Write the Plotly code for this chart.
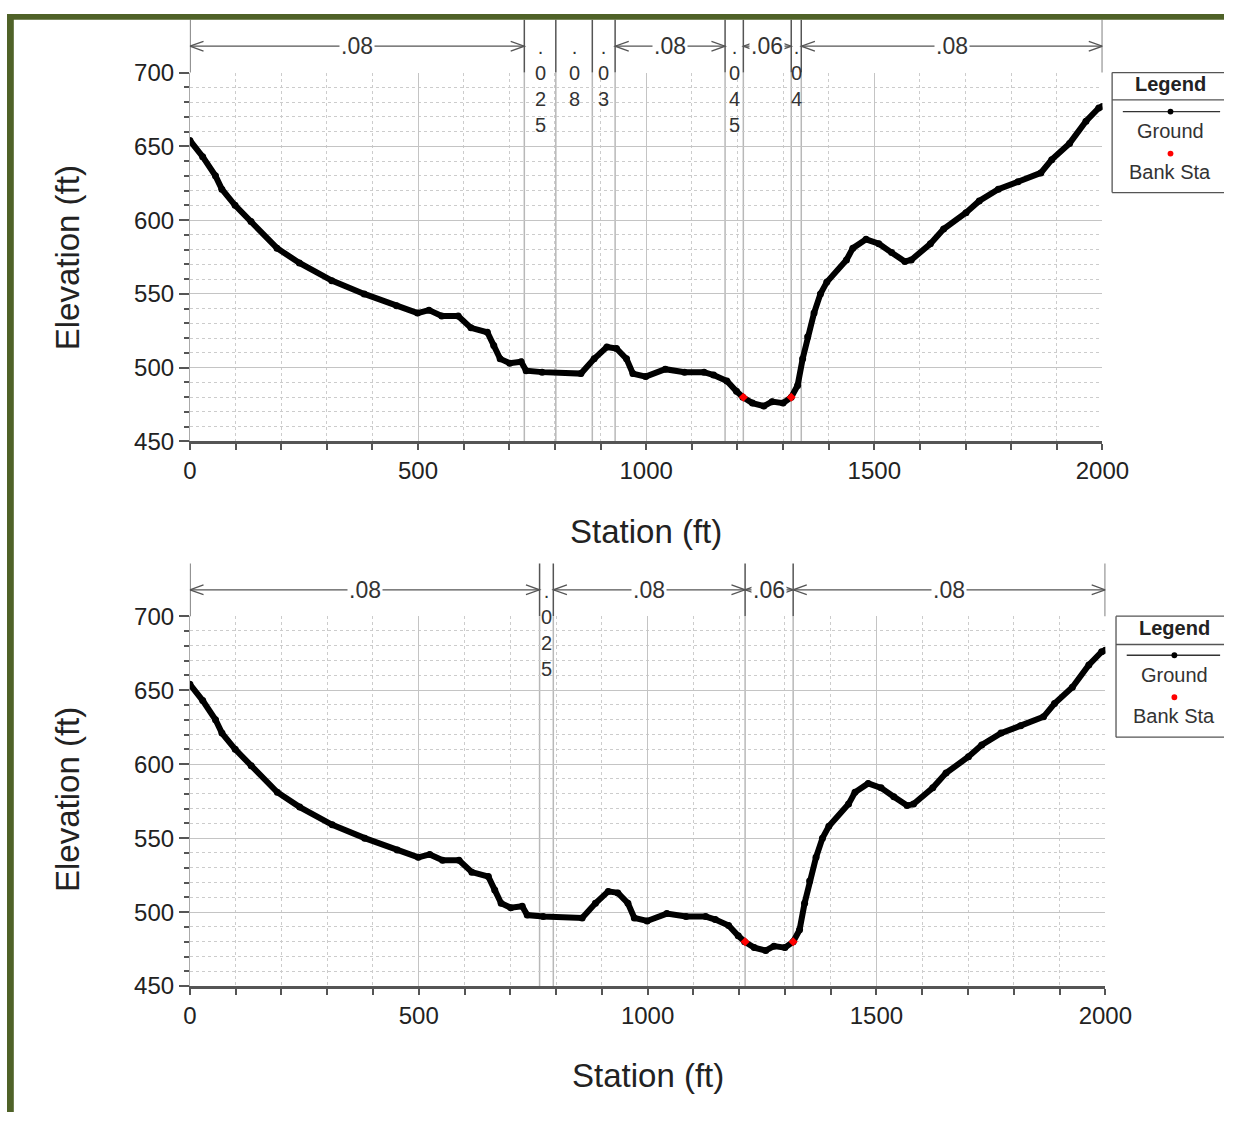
import plotly.graph_objects as go

# ---------------- data ----------------
station = [0, 28, 56, 70, 99, 134, 191, 240, 311, 382, 453, 499, 524, 552, 588, 616,
           652, 666, 680, 701, 726, 737, 772, 857, 886, 914, 935, 957, 971, 999, 1042,
           1084, 1127, 1148, 1177, 1198, 1212, 1233, 1258, 1276, 1300, 1318, 1332, 1343,
           1354, 1368, 1382, 1396, 1439, 1453, 1482, 1510, 1538, 1567, 1581, 1623, 1652,
           1701, 1730, 1772, 1815, 1865, 1889, 1928, 1964, 1992, 2000]
elevation = [654, 643, 630, 621, 610, 599, 581, 571, 559, 550, 542, 537, 539, 535, 535, 527,
             524, 515, 506, 503, 504, 498, 497, 496, 506, 514, 513, 506, 496, 494, 499,
             497, 497, 495, 491, 484, 480, 476, 474, 477, 476, 480, 488, 506,
             521, 537, 550, 558, 573, 581, 587, 584, 578, 572, 573, 584, 594,
             605, 613, 621, 626, 632, 641, 652, 667, 676, 677]
bank_sta = [1213, 1318]
bank_elev = [480, 480]

n_breaks_top = [0, 733, 802, 882, 932, 1173, 1213, 1318, 1340, 2000]
n_vals_top = [".08", ".025", ".08", ".03", ".08", ".045", ".06", ".04", ".08"]
n_breaks_bot = [0, 764, 794, 1213, 1318, 2000]
n_vals_bot = [".08", ".025", ".08", ".06", ".08"]

x_ticks = [0, 500, 1000, 1500, 2000]
y_ticks = [450, 500, 550, 600, 650, 700]

W, H = 1251, 1125
FONT = "Arial, Liberation Sans, sans-serif"


def X(px):
    return px / W


def Y(py):
    return 1 - py / H


panels = [
    dict(xa="x", ya="y", xl=188, xr=1126, yt=60, yb=438, arrow_y=33, line_top=6,
         breaks=n_breaks_top, vals=n_vals_top, xtitle_y=530, ytitle_y=250,
         leg=dict(x0=1136, y0=60, y1=183, cx=1196, head=72, sep=88, samp=100,
                  g=120, red=143, b=162)),
    dict(xa="x2", ya="y2", xl=188, xr=1129, yt=617, yb=996, arrow_y=590, line_top=563,
         breaks=n_breaks_bot, vals=n_vals_bot, xtitle_y=1088, ytitle_y=805,
         leg=dict(x0=1140, y0=617, y1=741, cx=1200, head=629, sep=646, samp=657,
                  g=677, red=700, b=719)),
]

fig = go.Figure()
shapes = []
annotations = []


def ann(**kw):
    d = dict(showarrow=False, xanchor="center", yanchor="middle")
    d.update(kw)
    annotations.append(d)


for i, p in enumerate(panels):
    fig.add_trace(go.Scatter(x=station, y=elevation, mode="lines+markers",
                             line=dict(color="black", width=6),
                             marker=dict(color="black", size=7),
                             xaxis=p["xa"], yaxis=p["ya"], showlegend=False,
                             name="Ground"))
    fig.add_trace(go.Scatter(x=bank_sta, y=bank_elev, mode="markers",
                             marker=dict(color="red", size=7, symbol="diamond"),
                             xaxis=p["xa"], yaxis=p["ya"], showlegend=False,
                             name="Bank Sta"))
    xref = p["xa"]
    yref = p["ya"]
    pxft = (p["xr"] - p["xl"]) / 2000.0
    # Manning's n boundary lines
    for b in p["breaks"]:
        shapes.append(dict(type="line", xref=xref, yref="paper", x0=b, x1=b,
                           y0=Y(p["line_top"]), y1=Y(p["yt"]),
                           line=dict(color="#555555", width=1.5)))
        if 0 < b < 2000:
            shapes.append(dict(type="line", xref=xref, yref=yref, x0=b, x1=b,
                               y0=450, y1=700, layer="below",
                               line=dict(color="#b8b8b8", width=1.5)))
    # n-value labels
    ay = Y(p["arrow_y"])
    dx = 14 / pxft
    dy = 5 / H
    for k, v in enumerate(p["vals"]):
        b0, b1 = p["breaks"][k], p["breaks"][k + 1]
        c = (b0 + b1) / 2
        if (b1 - b0) * pxft > 40:
            shapes.append(dict(type="line", xref=xref, yref="paper", x0=b0, x1=b1,
                               y0=ay, y1=ay, line=dict(color="#555555", width=1.3)))
            shapes.append(dict(type="path", xref=xref, yref="paper",
                               path=f"M {b0 + dx} {ay + dy} L {b0} {ay} L {b0 + dx} {ay - dy}",
                               line=dict(color="#555555", width=1.3)))
            shapes.append(dict(type="path", xref=xref, yref="paper",
                               path=f"M {b1 - dx} {ay + dy} L {b1} {ay} L {b1 - dx} {ay - dy}",
                               line=dict(color="#555555", width=1.3)))
            ann(xref=xref, yref="paper", x=c, y=ay, text=v, bgcolor="white", borderpad=1,
                font=dict(size=23, color="#333333", family=FONT))
        else:
            ann(xref=xref, yref="paper", x=c, y=Y(p["arrow_y"] - 12), yanchor="top",
                text="<br>".join(list(v)),
                font=dict(size=20, color="#333333", family=FONT))
    # axis titles
    ann(xref="paper", yref="paper", x=X((p["xl"] + p["xr"]) / 2), y=Y(p["xtitle_y"]),
        text="Station (ft)", font=dict(size=33, color="#222222", family=FONT))
    ann(xref="paper", yref="paper", x=X(62), y=Y(p["ytitle_y"]), text="Elevation (ft)",
        textangle=-90, font=dict(size=33, color="#222222", family=FONT))
    # legend box (open on the right edge)
    L = p["leg"]
    shapes.append(dict(type="rect", xref="paper", yref="paper", x0=X(L["x0"]), x1=1,
                       y0=Y(L["y1"]), y1=Y(L["y0"]), fillcolor="white",
                       line=dict(width=0)))
    for (a0, a1, b0_, b1_) in [(L["x0"], W, L["y0"], L["y0"]), (L["x0"], W, L["y1"], L["y1"]),
                               (L["x0"], L["x0"], L["y0"], L["y1"]),
                               (L["x0"], W, L["sep"], L["sep"])]:
        shapes.append(dict(type="line", xref="paper", yref="paper", x0=X(a0), x1=X(a1),
                           y0=Y(b0_), y1=Y(b1_), line=dict(color="#555555", width=1.3)))
    shapes.append(dict(type="line", xref="paper", yref="paper", x0=X(L["x0"] + 11),
                       x1=X(1247), y0=Y(L["samp"]), y1=Y(L["samp"]),
                       line=dict(color="#333333", width=1.3)))
    shapes.append(dict(type="circle", xref="paper", yref="paper",
                       x0=X(L["cx"] - 3), x1=X(L["cx"] + 3),
                       y0=Y(L["samp"] + 3), y1=Y(L["samp"] - 3),
                       fillcolor="black", line=dict(color="black", width=0)))
    shapes.append(dict(type="circle", xref="paper", yref="paper",
                       x0=X(L["cx"] - 3), x1=X(L["cx"] + 3),
                       y0=Y(L["red"] + 3), y1=Y(L["red"] - 3),
                       fillcolor="red", line=dict(color="red", width=0)))
    ann(xref="paper", yref="paper", x=X(L["cx"]), y=Y(L["head"]), text="<b>Legend</b>",
        font=dict(size=20, color="#222222", family=FONT))
    ann(xref="paper", yref="paper", x=X(L["cx"]), y=Y(L["g"]), text="Ground",
        font=dict(size=20, color="#333333", family=FONT))
    ann(xref="paper", yref="paper", x=X(L["cx"]), y=Y(L["b"]), text="Bank Sta",
        font=dict(size=20, color="#333333", family=FONT))

# green frame
shapes.append(dict(type="rect", xref="paper", yref="paper", x0=0, x1=X(7), y0=0, y1=1,
                   fillcolor="#4f6228", line=dict(width=0)))
shapes.append(dict(type="rect", xref="paper", yref="paper", x0=0, x1=1, y0=Y(6), y1=1,
                   fillcolor="#4f6228", line=dict(width=0)))


def xaxis_cfg(p):
    return dict(domain=[X(p["xl"]), X(p["xr"])], range=[0, 2000], tickvals=x_ticks,
                showgrid=True, gridcolor="#c4c4c4", gridwidth=1.2,
                ticks="outside", ticklen=6, tickwidth=1.5, tickcolor="#555555",
                minor=dict(dtick=100, tick0=0, showgrid=True, gridcolor="#cccccc",
                           griddash="dot", gridwidth=1, ticks="outside", ticklen=6,
                           tickwidth=1.5, tickcolor="#555555"),
                showline=True, linecolor="#555555", linewidth=2.5, zeroline=False,
                anchor=p["ya"], tickfont=dict(size=24, color="#222222", family=FONT))


def yaxis_cfg(p):
    return dict(domain=[Y(p["yb"]), Y(p["yt"])], range=[450, 700], tickvals=y_ticks,
                showgrid=True, gridcolor="#c4c4c4", gridwidth=1.2,
                ticks="outside", ticklen=10, tickwidth=1.5, tickcolor="#555555",
                minor=dict(dtick=10, tick0=450, showgrid=True, gridcolor="#cccccc",
                           griddash="dot", gridwidth=1, ticks="outside", ticklen=5,
                           tickwidth=1.5, tickcolor="#555555"),
                showline=True, linecolor="#aaaaaa", linewidth=1, zeroline=False,
                anchor=p["xa"], tickfont=dict(size=24, color="#222222", family=FONT))


fig.update_layout(
    width=W, height=H, margin=dict(l=0, r=0, t=0, b=0),
    paper_bgcolor="white", plot_bgcolor="white",
    xaxis=xaxis_cfg(panels[0]), yaxis=yaxis_cfg(panels[0]),
    xaxis2=xaxis_cfg(panels[1]), yaxis2=yaxis_cfg(panels[1]),
    shapes=shapes, annotations=annotations, showlegend=False,
    font=dict(family=FONT),
)

fig.write_html("out.html")
